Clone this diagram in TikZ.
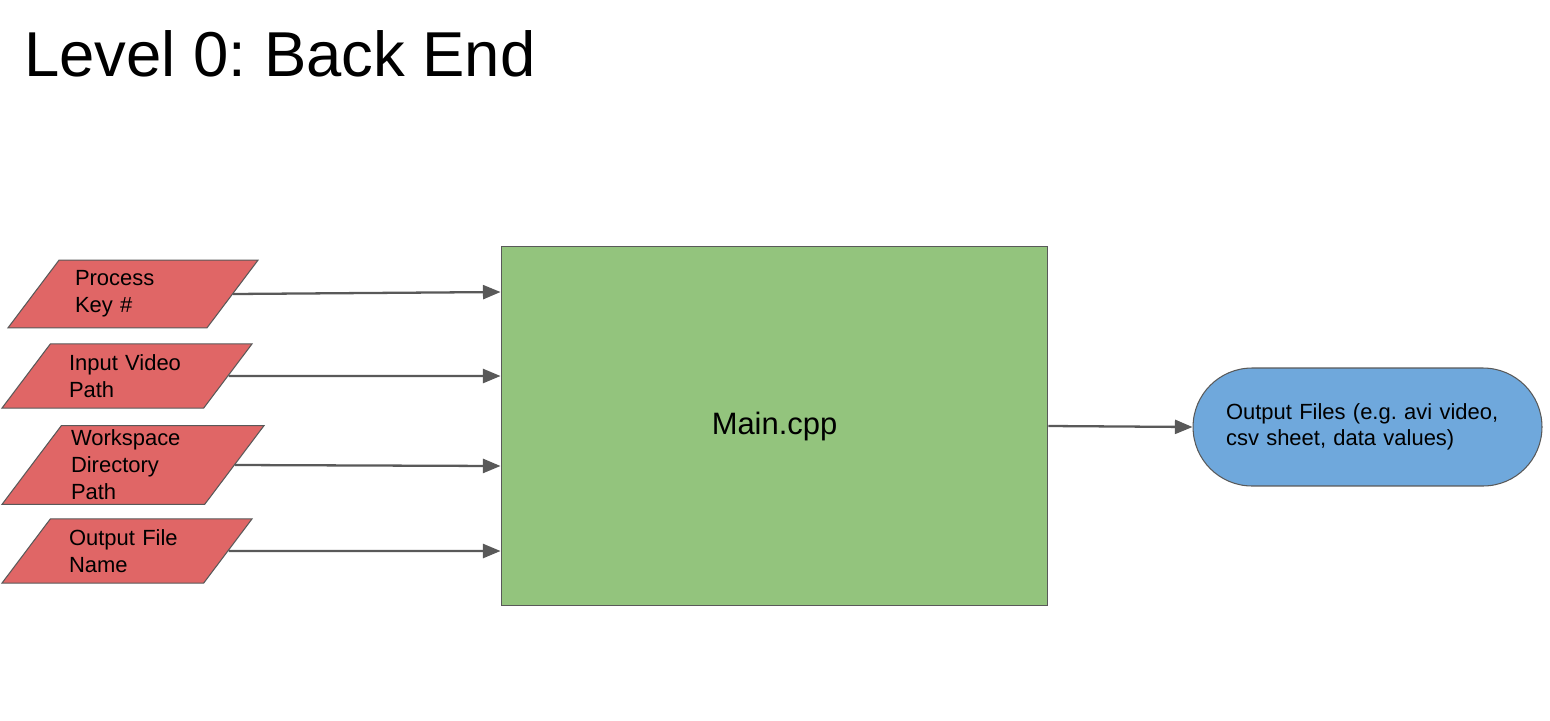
\documentclass[tikz,border=0pt]{standalone}
\usepackage{fontspec}
\setmainfont{Liberation Sans}
\usetikzlibrary{calc}
\usetikzlibrary{arrows.meta}
\usetikzlibrary{shapes.geometric}
\usetikzlibrary{shapes.misc}
\definecolor{inred}{HTML}{E06666}
\definecolor{maingreen}{HTML}{93C47D}
\definecolor{outblue}{HTML}{6FA8DC}
\definecolor{edgegray}{HTML}{595959}
\frenchspacing

\begin{document}
\begin{tikzpicture}[x=0.02cm, y=-0.02cm,
  io/.style={trapezium, trapezium left angle=53, trapezium right angle=127,
    trapezium stretches body, draw=edgegray, line width=0.6pt, fill=inred,
    text width=2.32cm, align=left, inner xsep=0pt, inner ysep=6pt, minimum width=5cm,
    font=\fontsize{12.5pt}{15.3pt}\selectfont},
  flow/.style={draw=edgegray, line width=1.3pt, -{Triangle[length=10pt, width=8pt]}}]
\useasboundingbox (0,0) rectangle (1550,720);

\node[anchor=base west, inner sep=0pt, font=\fontsize{36.1pt}{43pt}\selectfont] (title) at (24,76) {Level 0: Back End};

% inputs
\node[io] (key) at (133,294) {Process\\Key \#};
\node[io] (video) at (127,376) {Input Video\\Path};
\node[io, inner ysep=2.5pt, text width=2.48cm, minimum width=5.24cm] (workspace) at (133,465) {Workspace\\Directory\\Path};
\node[io] (outname) at (127,551) {Output File\\Name};

\node[draw=edgegray, line width=0.6pt, fill=maingreen, minimum width=10.94cm, minimum height=7.18cm,
  font=\fontsize{17.6pt}{21pt}\selectfont] (main) at (774.5,426) {Main.cpp};

\node[rounded rectangle, draw=edgegray, line width=0.6pt, fill=outblue, minimum width=6.98cm, minimum height=2.36cm,
  text width=5.66cm, align=left, inner sep=0pt, font=\fontsize{12.5pt}{14.7pt}\selectfont] (outfiles) at (1367.5,427)
  {Output Files (e.g. avi video,\\csv sheet, data values)};

\draw[flow] (key.east) -- ($(main.north west)+(0,46)$);
\draw[flow] (video.east) -- ($(main.north west)+(0,130)$);
\draw[flow] (workspace.east) -- ($(main.north west)+(0,220)$);
\draw[flow] (outname.east) -- ($(main.north west)+(0,305)$);
\draw[flow] (main.east) -- (outfiles.west);

\end{tikzpicture}
\end{document}
